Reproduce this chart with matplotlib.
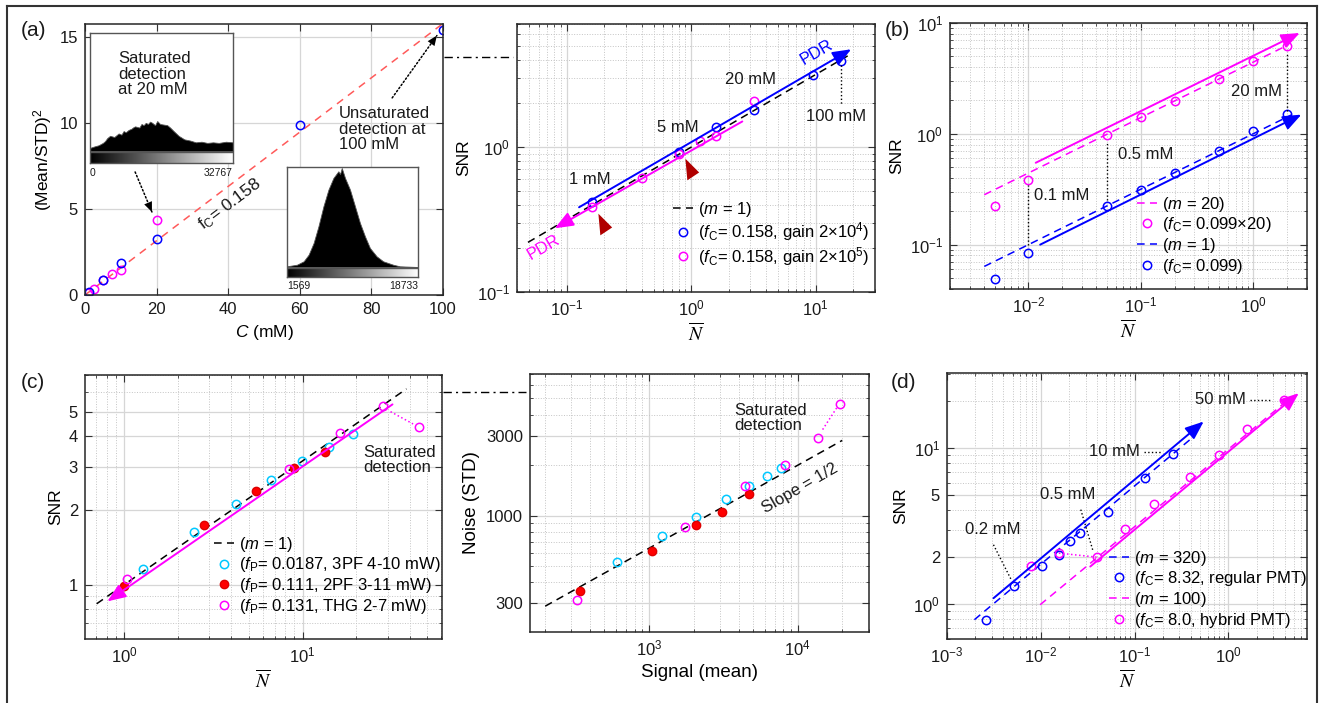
import numpy as np
import matplotlib
matplotlib.use('Agg')
import matplotlib.pyplot as plt
from matplotlib.ticker import FixedLocator, FixedFormatter, NullFormatter
from matplotlib.lines import Line2D
import matplotlib.transforms as mtransforms

plt.rcParams['font.family'] = ['Liberation Sans', 'DejaVu Sans']
plt.rcParams['font.size'] = 12
plt.rcParams['mathtext.fontset'] = 'custom'
plt.rcParams['mathtext.rm'] = 'Liberation Sans'
plt.rcParams['mathtext.it'] = 'Liberation Sans:italic'
plt.rcParams['mathtext.bf'] = 'Liberation Sans:bold'
plt.rcParams['axes.unicode_minus'] = False

BLUE = '#0000ff'
MAG = '#ff00ff'
CYAN = '#00c8ff'
RED = '#ff0000'
DKRED = '#b00000'
TXT = '#1a1a1a'

# ---------------- data: panel (a) left ----------------
a_conc_blue = [1, 5, 10, 20, 60, 100]
a_snr2_blue = [0.15, 0.85, 1.88, 3.24, 9.87, 15.43]
a_conc_mag = [0.75, 2.5, 5, 7.5, 10, 20]
a_snr2_mag = [0.14, 0.37, 0.85, 1.2, 1.44, 4.35]
a_fit_conc = [0, 100]
a_fit_snr2 = [0, 15.8]
a_xticks = [0, 20, 40, 60, 80, 100]
a_yticks = [0, 5, 10, 15]

# histogram envelopes of the two insets (fraction of inset height)
hist20_pos = [0, 0.03, 0.06, 0.09, 0.105, 0.12, 0.14, 0.17, 0.2, 0.22, 0.235, 0.25, 0.27,
              0.29, 0.3, 0.315, 0.345, 0.36, 0.375, 0.39, 0.405, 0.42, 0.435, 0.455, 0.47,
              0.49, 0.515, 0.54, 0.56, 0.585, 0.62, 0.66, 0.7, 0.74, 0.78, 0.82, 0.86,
              0.9, 0.95, 1.0]
hist20_level = [0.028, 0.04, 0.05, 0.07, 0.085, 0.11, 0.13, 0.12, 0.15, 0.14, 0.17, 0.16,
                0.18, 0.19, 0.2, 0.21, 0.2, 0.23, 0.22, 0.24, 0.23, 0.25, 0.24, 0.22, 0.255,
                0.23, 0.225, 0.22, 0.2, 0.17, 0.13, 0.1, 0.09, 0.075, 0.08, 0.07, 0.075,
                0.07, 0.08, 0.075]
hist100_pos = [0, 0.076, 0.127, 0.165, 0.203, 0.24, 0.278, 0.316, 0.354, 0.392, 0.405,
               0.418, 0.443, 0.481, 0.519, 0.557, 0.595, 0.633, 0.684, 0.734, 0.81,
               0.861, 1.0]
hist100_level = [0.007, 0.023, 0.057, 0.123, 0.24, 0.407, 0.607, 0.773, 0.89, 0.957, 0.93,
                 0.99, 0.89, 0.773, 0.607, 0.44, 0.307, 0.19, 0.107, 0.057, 0.023,
                 0.007, 0.0]

# ---------------- data: panel (a) right ----------------
ar_N_blue = [0.159, 0.80, 1.6, 3.2, 9.6, 16]
ar_snr_blue = [0.42, 0.92, 1.37, 1.80, 3.12, 3.92]
ar_N_mag = [0.159, 0.40, 0.80, 1.19, 1.6, 3.2]
ar_snr_mag = [0.388, 0.61, 0.90, 1.10, 1.19, 2.09]
ar_m1_N = [0.049, 18.1]
ar_m1_snr = [0.22, 4.25]
ar_pdrb_N = [0.126, 19.3]
ar_pdrb_snr = [0.384, 4.72]
ar_pdrm_N = [2.58, 0.0805]
ar_pdrm_snr = [1.50, 0.275]
ar_tri_N = [0.975, 0.197]
ar_tri_snr = [0.69, 0.29]

# ---------------- data: panel (b) ----------------
b_N = [0.005, 0.01, 0.05, 0.1, 0.2, 0.5, 1, 2]
b_snr_mag = [0.221, 0.385, 0.97, 1.43, 1.97, 3.11, 4.58, 6.2]
b_snr_blue = [0.049, 0.0847, 0.221, 0.313, 0.446, 0.698, 1.05, 1.51]
b_m20_N = [0.00404, 2.05]
b_m20_snr = [0.282, 6.34]
b_m1_N = [0.00404, 2.19]
b_m1_snr = [0.0636, 1.48]
b_solm_N = [0.0116, 2.6]
b_solm_snr = [0.548, 8.13]
b_solb_N = [0.0127, 2.69]
b_solb_snr = [0.1, 1.49]

# ---------------- data: panel (c) left ----------------
cl_N_cyan = [1.28, 2.48, 4.24, 6.7, 9.9, 14.0, 19.2]
cl_snr_cyan = [1.16, 1.64, 2.12, 2.65, 3.16, 3.61, 4.08]
cl_N_red = [1.0, 2.79, 5.46, 8.98, 13.4]
cl_snr_red = [0.99, 1.74, 2.39, 2.95, 3.45]
cl_N_mag = [1.04, 8.35, 16.3, 28.3, 44.8]
cl_snr_mag = [1.06, 2.94, 4.11, 5.27, 4.34]
cl_m1_N = [0.703, 38.2]
cl_m1_snr = [0.838, 6.18]
cl_sol_N = [31.9, 0.807]
cl_sol_snr = [5.35, 0.857]
cl_yticks = [1, 2, 3, 4, 5]

# ---------------- data: panel (c) right ----------------
cr_sig_mag = [326, 1745, 4397, 8260, 13650, 19200]
cr_noise_mag = [312, 856, 1511, 2014, 2905, 4660]
cr_sig_red = [343, 1052, 2070, 3097, 4677]
cr_noise_red = [354, 618, 875, 1052, 1353]
cr_sig_cyan = [607, 1223, 2060, 3296, 4730, 6220, 7770]
cr_noise_cyan = [529, 753, 977, 1257, 1496, 1718, 1923]
cr_fit_sig = [200, 19950]
cr_fit_noise = [288, 2811]
cr_yticks = [300, 1000, 3000]

# ---------------- data: panel (d) ----------------
d_N_blue = [0.00259, 0.00519, 0.0104, 0.0156, 0.0207, 0.0259, 0.0519, 0.13, 0.257]
d_snr_blue = [0.794, 1.30, 1.76, 2.05, 2.55, 2.85, 3.89, 6.42, 9.2]
d_N_mag = [0.0079, 0.0156, 0.0396, 0.0795, 0.16, 0.393, 0.788, 1.58, 3.9]
d_snr_mag = [1.76, 2.12, 2.0, 3.04, 4.4, 6.55, 9.02, 13.3, 20.4]
d_m320_N = [0.00196, 0.409]
d_m320_snr = [0.794, 11.6]
d_solb_N = [0.00313, 0.546]
d_solb_snr = [1.09, 14.8]
d_m100_N = [0.00984, 4.79]
d_m100_snr = [0.99, 21.4]
d_solm_N = [0.0337, 5.64]
d_solm_snr = [1.74, 22.5]
d_yticks = [1, 2, 5, 10]
d_yticklabels = [r'$10^0$', '2', '5', r'$10^1$']

# ---------------- figure ----------------
W, H = 1319, 703
fig = plt.figure(figsize=(W / 100, H / 100), dpi=100)


def rect(x0, y0, x1, y1):
    return [x0 / W, 1 - y1 / H, (x1 - x0) / W, (y1 - y0) / H]


def style(ax, log=True):
    ax.tick_params(which='both', direction='in', top=True, right=True,
                   labelsize=12, labelcolor=TXT, color='#333333')
    ax.tick_params(which='major', length=5, width=0.8, pad=5)
    ax.tick_params(which='minor', length=2.5, width=0.6)
    for s in ax.spines.values():
        s.set_color('#262626')
        s.set_linewidth(1.1)
    ax.grid(which='major', color='#d6d6d6', lw=0.9, ls='-')
    if log:
        ax.grid(which='minor', color='#c4c4c4', lw=0.7, ls=':')
        ax.xaxis.set_minor_formatter(NullFormatter())
        ax.yaxis.set_minor_formatter(NullFormatter())
    ax.set_axisbelow(True)


def arrow_line(ax, xs, ys, color, lw=1.4):
    ax.annotate('', xy=(xs[1], ys[1]), xytext=(xs[0], ys[0]),
                arrowprops=dict(arrowstyle='-|>,head_length=0.7,head_width=0.28',
                                color=color, lw=lw, shrinkA=0, shrinkB=0,
                                mutation_scale=16))


def dotted_arrow(ax, start, end, color='k'):
    ax.annotate('', xy=end, xytext=start,
                arrowprops=dict(arrowstyle='-', linestyle=(0, (1, 1.5)), color=color,
                                lw=1.1, shrinkA=0, shrinkB=0))
    ax.annotate('', xy=end, xytext=start,
                arrowprops=dict(arrowstyle='-|>,head_length=0.6,head_width=0.25',
                                color=color, lw=0, shrinkA=0, shrinkB=0,
                                mutation_scale=12))


def nlabel(ax):
    ax.set_xlabel(r'$\overline{N}$', math_fontfamily='stix', fontsize=14, labelpad=2)


circ = dict(marker='o', ls='none', mfc='none', ms=6, mew=1.1)
tri_marker = [(-13, 30), (22, -5), (-8, -25), (-13, 30)]

axAL = fig.add_axes(rect(85, 24, 443, 295))
axAR = fig.add_axes(rect(517, 24, 875, 292))
axB = fig.add_axes(rect(950, 23, 1307, 289))
axCL = fig.add_axes(rect(85, 375, 442, 639))
axCR = fig.add_axes(rect(530, 374, 869, 632))
axD = fig.add_axes(rect(947, 373, 1307, 639))

# ---- (a) left ----
ax = axAL
style(ax, log=False)
ax.set_xlim(0, 100)
ax.set_ylim(0, 15.77)
ax.set_xticks(a_xticks)
ax.set_yticks(a_yticks)
ax.plot(a_fit_conc, a_fit_snr2, ls=(0, (5, 4)), color='#ff5a5a', lw=1.1)
ax.plot(a_conc_mag, a_snr2_mag, color=MAG, **circ)
ax.plot(a_conc_blue, a_snr2_blue, color=BLUE, **circ)
ax.text(40.5, 5.3, r'f$_\mathrm{C}$= 0.158', rotation=37, ha='center', va='center',
        fontsize=12.5, color=TXT)
ax.text(71, 11.0, 'Unsaturated\ndetection at\n100 mM', ha='left', va='top',
        fontsize=12, linespacing=1.05, color=TXT)
dotted_arrow(ax, (85.8, 11.47), (98.3, 15.1))
dotted_arrow(ax, (14, 7.16), (18.7, 4.83))
ax.set_xlabel(r'$C$ (mM)', fontsize=12.5)
ax.set_ylabel(r'(Mean/STD)$^2$', fontsize=12.5)

# insets
grad = np.linspace(0, 1, 256)[None, :]
for r, pos, lev, txt_l, txt_r in [
        ((90, 33, 233, 163), hist20_pos, hist20_level, '0', '32767'),
        ((287, 167, 418, 277), hist100_pos, hist100_level, '1569', '18733')]:
    ins = fig.add_axes(rect(*r))
    ins.set_xlim(0, 1)
    ins.set_ylim(-0.1, 1.0)
    ins.fill_between(pos, 0, lev, color='k', lw=0.6, edgecolor='#555555')
    ins.imshow(grad, cmap='gray', extent=(0, 1, -0.1, -0.012), aspect='auto')
    ins.axhline(-0.006, color='#555555', lw=1.0)
    ins.set_xticks([])
    ins.set_yticks([])
    for s in ins.spines.values():
        s.set_color('#555555')
        s.set_linewidth(1.0)
    ins.text(0.0, -0.035, txt_l, transform=ins.transAxes, ha='left', va='top',
             fontsize=7.5, color=TXT)
    ins.text(1.0, -0.035, txt_r, transform=ins.transAxes, ha='right', va='top',
             fontsize=7.5, color=TXT)
    if txt_l == '0':
        ins.text(0.196, 0.86, 'Saturated\ndetection\nat 20 mM', transform=ins.transAxes,
                 ha='left', va='top', fontsize=12, linespacing=1.05, color=TXT)

# ---- (a) right ----
ax = axAR
ax.set_xscale('log')
ax.set_yscale('log')
style(ax)
ax.set_xlim(0.04, 30)
ax.set_ylim(0.1, 7.05)
h1, = ax.plot(ar_m1_N, ar_m1_snr, ls=(0, (5, 3.5)), color='k', lw=1.1)
arrow_line(ax, ar_pdrb_N, ar_pdrb_snr, BLUE)
arrow_line(ax, ar_pdrm_N, ar_pdrm_snr, MAG)
h2, = ax.plot(ar_N_blue, ar_snr_blue, color=BLUE, **circ)
h3, = ax.plot(ar_N_mag, ar_snr_mag, color=MAG, **circ)
ax.plot(ar_tri_N, ar_tri_snr, ls='none', marker=tri_marker, ms=17, color=DKRED, mew=0)
ax.plot([ar_N_blue[-1], ar_N_blue[-1]], [3.7, 1.95], ls=':', color='k', lw=1)
ax.text(0.155, 0.60, '1 mM', ha='center', va='center', fontsize=12, color=TXT)
ax.text(0.78, 1.36, '5 mM', ha='center', va='center', fontsize=12, color=TXT)
ax.text(3.0, 2.9, '20 mM', ha='center', va='center', fontsize=12, color=TXT)
ax.text(14.6, 1.62, '100 mM', ha='center', va='center', fontsize=12, color=TXT)
ax.text(10.2, 4.5, 'PDR', ha='center', va='center', rotation=30, fontsize=12, color=BLUE)
ax.text(0.065, 0.203, 'PDR', ha='center', va='center', rotation=30, fontsize=12, color=MAG)
ax.legend([h1, h2, h3], [r'($m$ = 1)', r'($f_\mathrm{C}$= 0.158, gain 2×$10^4$)',
                         r'($f_\mathrm{C}$= 0.158, gain 2×$10^5$)'],
          loc='upper left', bbox_to_anchor=(0.436, 0.345), frameon=False, fontsize=12,
          handlelength=1.2, handletextpad=0.3, labelspacing=0.1, borderpad=0,
          borderaxespad=0, numpoints=1)
ax.set_ylabel('SNR', fontsize=12.5)
nlabel(ax)

# ---- (b) ----
ax = axB
ax.set_xscale('log')
ax.set_yscale('log')
style(ax)
ax.set_xlim(0.002, 3.02)
ax.set_ylim(0.0398, 10)
g1, = ax.plot(b_m20_N, b_m20_snr, ls=(0, (5, 3.5)), color=MAG, lw=1.1)
g3, = ax.plot(b_m1_N, b_m1_snr, ls=(0, (5, 3.5)), color=BLUE, lw=1.1)
arrow_line(ax, b_solm_N, b_solm_snr, MAG)
arrow_line(ax, b_solb_N, b_solb_snr, BLUE)
g2, = ax.plot(b_N, b_snr_mag, color=MAG, **circ)
g4, = ax.plot(b_N, b_snr_blue, color=BLUE, **circ)
ax.plot([b_N[1], b_N[1]], [0.0986, 0.343], ls=':', color='k', lw=1)
ax.plot([b_N[2], b_N[2]], [0.251, 0.824], ls=':', color='k', lw=1)
ax.plot([b_N[7], b_N[7]], [1.62, 5.44], ls=':', color='k', lw=1)
ax.text(0.0111, 0.275, '0.1 mM', ha='left', va='center', fontsize=12, color=TXT)
ax.text(0.063, 0.65, '0.5 mM', ha='left', va='center', fontsize=12, color=TXT)
ax.text(0.64, 2.41, '20 mM', ha='left', va='center', fontsize=12, color=TXT)
ax.legend([g1, g2, g3, g4], [r'($m$ = 20)', r'($f_\mathrm{C}$= 0.099×20)',
                             r'($m$ = 1)', r'($f_\mathrm{C}$= 0.099)'],
          loc='upper left', bbox_to_anchor=(0.523, 0.355), frameon=False, fontsize=12,
          handlelength=1.2, handletextpad=0.3, labelspacing=0.1, borderpad=0,
          borderaxespad=0, numpoints=1)
ax.set_ylabel('SNR', fontsize=12.5)
nlabel(ax)

# ---- (c) left ----
ax = axCL
ax.set_xscale('log')
ax.set_yscale('log')
style(ax)
ax.set_xlim(0.605, 60.4)
ax.set_ylim(0.604, 7.03)
ax.yaxis.set_major_locator(FixedLocator(cl_yticks))
ax.yaxis.set_major_formatter(FixedFormatter([str(v) for v in cl_yticks]))
ax.yaxis.set_minor_locator(FixedLocator([0.7, 0.8, 0.9, 6, 7]))
ax.yaxis.set_minor_formatter(NullFormatter())
k1, = ax.plot(cl_m1_N, cl_m1_snr, ls=(0, (5, 3.5)), color='k', lw=1.1)
arrow_line(ax, cl_sol_N, cl_sol_snr, MAG)
ax.plot([31.1, 41.6], [5.0, 4.46], ls=':', color=MAG, lw=1.1)
k2, = ax.plot(cl_N_cyan, cl_snr_cyan, color=CYAN, **circ)
k3, = ax.plot(cl_N_red, cl_snr_red, ls='none', marker='o', ms=6, color=RED, mec='#dd0000')
k4, = ax.plot(cl_N_mag, cl_snr_mag, color=MAG, **circ)
ax.text(22.0, 3.19, 'Saturated\ndetection', ha='left', va='center', fontsize=12,
        linespacing=1.05, color=TXT)
ax.legend([k1, k2, k3, k4], [r'($m$ = 1)', r'($f_\mathrm{P}$= 0.0187, 3PF 4-10 mW)',
                             r'($f_\mathrm{P}$= 0.111, 2PF 3-11 mW)',
                             r'($f_\mathrm{P}$= 0.131, THG 2-7 mW)'],
          loc='upper left', bbox_to_anchor=(0.36, 0.395), frameon=False, fontsize=12,
          handlelength=1.2, handletextpad=0.3, labelspacing=0.1, borderpad=0,
          borderaxespad=0, numpoints=1)
ax.set_ylabel('SNR', fontsize=12.5)
nlabel(ax)

# ---- (c) right ----
ax = axCR
ax.set_xscale('log')
ax.set_yscale('log')
style(ax)
ax.set_xlim(158, 30200)
ax.set_ylim(202, 7000)
ax.yaxis.set_major_locator(FixedLocator(cr_yticks))
ax.yaxis.set_major_formatter(FixedFormatter([str(v) for v in cr_yticks]))
ax.yaxis.set_minor_locator(FixedLocator([200, 400, 500, 600, 700, 800, 900,
                                         2000, 4000, 5000, 6000, 7000]))
ax.yaxis.set_minor_formatter(NullFormatter())
ax.plot(cr_fit_sig, cr_fit_noise, ls=(0, (5, 3.5)), color='k', lw=1.1)
ax.plot([14720, 18280], [3260, 4385], ls=':', color=MAG, lw=1.1)
ax.plot(cr_sig_cyan, cr_noise_cyan, color=CYAN, **circ)
ax.plot(cr_sig_red, cr_noise_red, ls='none', marker='o', ms=6, color=RED, mec='#dd0000')
ax.plot(cr_sig_mag, cr_noise_mag, color=MAG, **circ)
ax.text(3750, 3830, 'Saturated\ndetection', ha='left', va='center', fontsize=12,
        linespacing=1.05, color=TXT)
ax.text(10380, 1462, 'Slope = 1/2', ha='center', va='center', rotation=30,
        fontsize=12, color=TXT)
ax.set_xlabel('Signal (mean)', fontsize=13.5)
ax.set_ylabel('Noise (STD)', fontsize=13.5)

# ---- (d) ----
ax = axD
ax.set_xscale('log')
ax.set_yscale('log')
style(ax)
ax.set_xlim(0.001, 6.9)
ax.set_ylim(0.597, 30.3)
ax.yaxis.set_major_locator(FixedLocator(d_yticks))
ax.yaxis.set_major_formatter(FixedFormatter(d_yticklabels))
ax.yaxis.set_minor_locator(FixedLocator([0.6, 0.7, 0.8, 0.9, 3, 4, 6, 7, 8, 9, 20, 30]))
ax.yaxis.set_minor_formatter(NullFormatter())
q1, = ax.plot(d_m320_N, d_m320_snr, ls=(0, (5, 3.5)), color=BLUE, lw=1.1)
q3, = ax.plot(d_m100_N, d_m100_snr, ls=(0, (5, 3.5)), color=MAG, lw=1.1)
arrow_line(ax, d_solb_N, d_solb_snr, BLUE)
arrow_line(ax, d_solm_N, d_solm_snr, MAG)
ax.plot([d_N_mag[1], d_N_mag[2]], [d_snr_mag[1], d_snr_mag[2]], ls=':', color=MAG, lw=1.1)
q2, = ax.plot(d_N_blue, d_snr_blue, color=BLUE, **circ)
q4, = ax.plot(d_N_mag, d_snr_mag, color=MAG, **circ)
ax.text(0.00156, 2.99, '0.2 mM', ha='left', va='center', fontsize=12, color=TXT)
ax.plot([0.00313, 0.00479], [2.4, 1.45], ls=':', color='k', lw=1)
ax.text(0.0097, 5.02, '0.5 mM', ha='left', va='center', fontsize=12, color=TXT)
ax.plot([0.0267, 0.0359], [4.03, 2.21], ls=':', color='k', lw=1)
ax.text(0.0323, 9.52, '10 mM', ha='left', va='center', fontsize=12, color=TXT)
ax.plot([0.125, 0.196], [9.4, 9.4], ls=':', color='k', lw=1)
ax.text(0.445, 20.6, '50 mM', ha='left', va='center', fontsize=12, color=TXT)
ax.plot([1.72, 2.8], [20.4, 20.4], ls=':', color='k', lw=1)
ax.legend([q1, q2, q3, q4], [r'($m$ = 320)', r'($f_\mathrm{C}$= 8.32, regular PMT)',
                             r'($m$ = 100)', r'($f_\mathrm{C}$= 8.0, hybrid PMT)'],
          loc='upper left', bbox_to_anchor=(0.45, 0.34), frameon=False, fontsize=12,
          handlelength=1.2, handletextpad=0.3, labelspacing=0.1, borderpad=0,
          borderaxespad=0, numpoints=1)
ax.set_ylabel('SNR', fontsize=12.5)
nlabel(ax)

# ---- connectors between panels (dash-dot) ----
for axl, axr, yv in [(axAL, axAR, 13.85), (axCL, axCR, 6.0)]:
    tr = mtransforms.blended_transform_factory(fig.transFigure, axl.transData)
    x0 = axl.get_position().x1 + 1 / W
    x1 = axr.get_position().x0 - 4 / W
    fig.add_artist(Line2D([x0, x1], [yv, yv], transform=tr, color='k', lw=1.0,
                          ls=(0, (6, 3, 1.5, 3)), clip_on=False))

# ---- panel letters ----
for lbl, (px, py) in [('(a)', (33, 31)), ('(b)', (897, 31)),
                      ('(c)', (33, 383)), ('(d)', (903, 382))]:
    fig.text(px / W, 1 - py / H, lbl, ha='center', va='center', fontsize=15, color=TXT)

# ---- outer frame ----
for xs, ys in [([7, 7], [6, 703]), ([7, 1317], [6, 6]), ([1317, 1317], [6, 703])]:
    fig.add_artist(Line2D([x / W for x in xs], [1 - y / H for y in ys],
                          transform=fig.transFigure, color='#333333', lw=1.5))

fig.savefig('out.png', dpi=100)
